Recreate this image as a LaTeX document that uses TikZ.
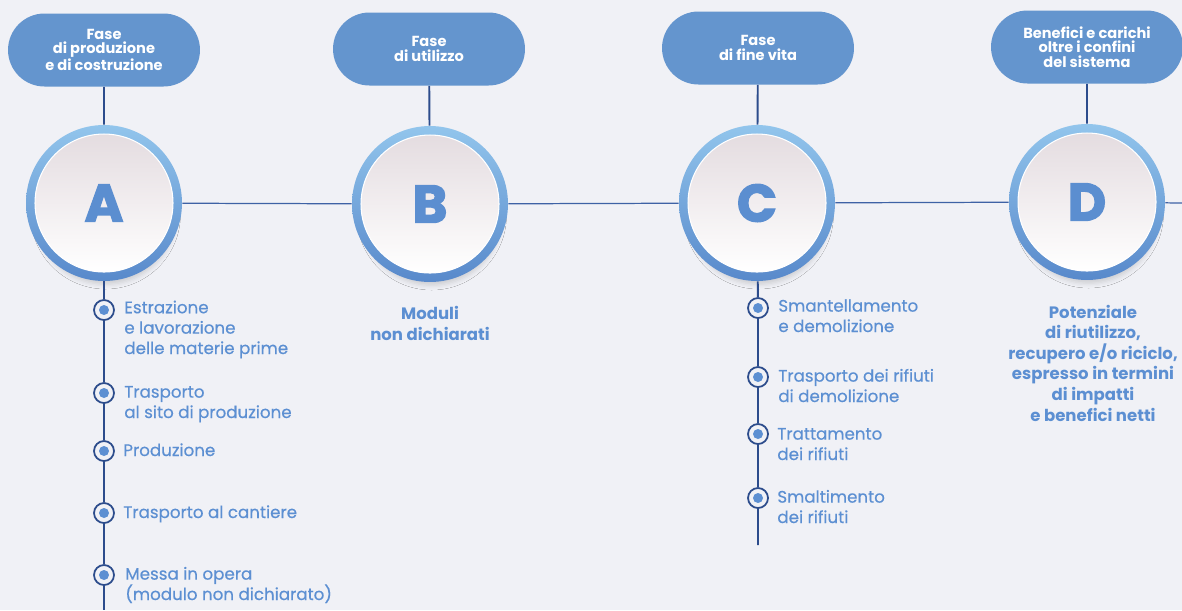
\documentclass[tikz,border=0pt]{standalone}
\usepackage{fontspec}
\setmainfont{Poppins}
\newfontfamily\letterfont{Poppins}[FakeBold=2.5]
\newfontfamily\itemfont{Poppins}[FakeBold=0.4]
\usepackage{tikz}
\usetikzlibrary{shapes.misc,shadows.blur}
\definecolor{bg}{RGB}{240,241,246}
\definecolor{pillblue}{RGB}{100,149,206}
\definecolor{navy}{RGB}{44,76,140}
\definecolor{lineblue}{RGB}{62,98,165}
\definecolor{letterblue}{RGB}{91,142,208}
\definecolor{textblue}{RGB}{92,143,210}
\definecolor{ringtop}{RGB}{146,197,236}
\definecolor{ringbot}{RGB}{88,137,203}
\definecolor{disctop}{RGB}{228,220,224}

\begin{document}
\begin{tikzpicture}[x=0.02cm,y=-0.02cm]
\tikzstyle{pill}=[rounded rectangle,fill=pillblue,text=white,minimum width=3.84cm,minimum height=1.46cm,align=center,inner sep=0,font=\bfseries\fontsize{8.3}{8.2}\selectfont]
\tikzstyle{ring}=[circle,minimum size=3.12cm,inner sep=0,top color=ringtop,bottom color=ringbot,blur shadow={shadow xshift=1pt,shadow yshift=-7pt,shadow scale=0.9,shadow blur radius=3pt,shadow opacity=15}]
\tikzstyle{disc}=[circle,minimum size=2.76cm,inner sep=0,draw=white,line width=0.6pt,top color=disctop,middle color=white,bottom color=white,text=letterblue,font=\letterfont\bfseries\fontsize{30}{30}\selectfont]
\tikzstyle{dot}=[circle,minimum size=0.4cm,inner sep=0,draw=navy,line width=1pt,fill=bg,path picture={\fill[textblue] (path picture bounding box.center) circle (0.1cm);}]
\tikzstyle{item}=[anchor=base west,inner sep=0,align=left,text=textblue,font=\itemfont\fontsize{9.5}{11.6}\selectfont]
\tikzstyle{note}=[anchor=base,inner sep=0,align=center,text=textblue,font=\bfseries\fontsize{9.4}{11.7}\selectfont]
\tikzstyle{stem}=[navy,line width=1.1pt]
\tikzstyle{link}=[lineblue,line width=0.7pt]
\fill[bg] (0,0) rectangle (1182,610);
\useasboundingbox (0,0) rectangle (1182,610);
% phases
\node[pill] (pa) at (104,50) {Fase\\di produzione\\e di costruzione};
\node[pill] (pb) at (429,49) {Fase\\di utilizzo};
\node[pill] (pc) at (758,48) {Fase\\di fine vita};
\node[pill] (pd) at (1087,47) {Benefici e carichi\\oltre i confini\\del sistema};
% modules
\node[ring] (A) at (104,203) {};
\node[disc] (dA) at (A) {A};
\node[ring] (B) at (430,204) {};
\node[disc] (dB) at (B) {B};
\node[ring] (C) at (757,203) {};
\node[disc] (dC) at (C) {C};
\node[ring] (D) at (1087,202) {};
\node[disc] (dD) at (D) {D};
\coordinate (dend) at (1182,203);
\draw[stem] (pa) -- (A);
\draw[stem] (pb) -- (B);
\draw[stem] (pc) -- (C);
\draw[stem] (pd) -- (D);
\draw[link] (A) -- (B) -- (C) -- (D) -- (dend);
% module A
\node[dot] (a1) at (104,310) {};
\node[dot] (a2) at (104,393) {};
\node[dot] (a3) at (104,451) {};
\node[dot] (a4) at (104,513) {};
\node[dot] (a5) at (104,575) {};
\coordinate (aend) at (104,610);
\draw[stem] (A) -- (a1) -- (a2) -- (a3) -- (a4) -- (a5) -- (aend);
\node[item] (ta1) at (124,354) {Estrazione\\e lavorazione\\delle materie prime};
\node[item] (ta2) at (124,418) {Trasporto\\al sito di produzione};
\node[item] (ta3) at (123,456) {Produzione};
\node[item] (ta4) at (123,518) {Trasporto al cantiere};
\node[item] (ta5) at (125,600) {Messa in opera\\(modulo non dichiarato)};
% module B
\node[note] (tb) at (430,340) {Moduli\\non dichiarati};
% module C
\node[dot] (c1) at (758,308) {};
\node[dot] (c2) at (758,377) {};
\node[dot] (c3) at (758,434) {};
\node[dot] (c4) at (758,498) {};
\coordinate (cend) at (758,545);
\draw[stem] (C) -- (c1) -- (c2) -- (c3) -- (c4) -- (cend);
\node[item] (tc1) at (778,332) {Smantellamento\\e demolizione};
\node[item] (tc2) at (778,402) {Trasporto dei rifiuti\\di demolizione};
\node[item] (tc3) at (777,460) {Trattamento\\dei rifiuti};
\node[item] (tc4) at (777,523) {Smaltimento\\dei rifiuti};
% module D
\node[note] (td) at (1093,421) {Potenziale\\di riutilizzo,\\recupero e/o riciclo,\\espresso in termini\\di impatti\\e benefici netti};
\end{tikzpicture}
\end{document}
